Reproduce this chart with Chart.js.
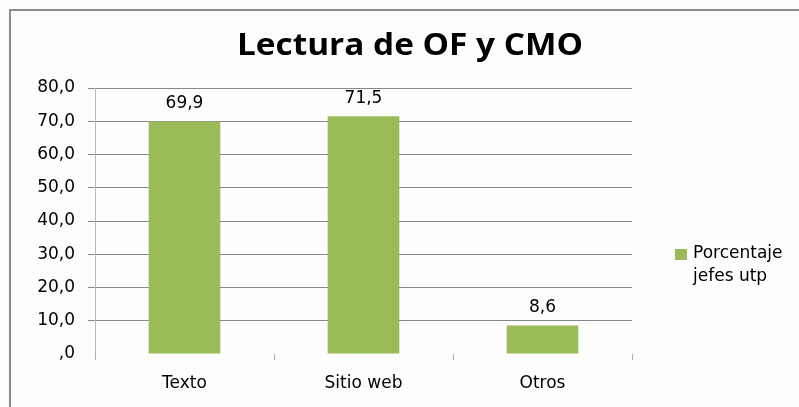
<!DOCTYPE html>
<html>
<head>
<meta charset="utf-8">
<script src="https://cdn.jsdelivr.net/npm/chart.js@4.4.0/dist/chart.umd.min.js"></script>
<style>
    html, body { margin: 0; padding: 0; background: #fdfdfd; overflow: hidden; }
    #marco { position: absolute; left: 9px; top: 9px; width: 820px; height: 420px;
             border-left: 2px solid #8a8a8a; border-top: 2px solid #8a8a8a; }
    #grafico { position: absolute; left: 0; top: 0; }
</style>
</head>
<body>
<div id="marco"></div>
<canvas id="grafico" width="820" height="407"></canvas>
<script>
// datos del grafico
const categorias = ['Texto', 'Sitio web', 'Otros'];
const porcentajes = [69.9, 71.5, 8.6];
const nombreSerie = ['Porcentaje', 'jefes utp'];
const tituloGrafico = 'Lectura de OF y CMO';
const ticksY = [0, 10, 20, 30, 40, 50, 60, 70, 80];

const verde = '#9bbb59';
const fuente = '"DejaVu Sans", sans-serif';
const fuenteTitulo = '"Open Sans", sans-serif';

// formato con coma decimal
function formatoComa(v) {
    if (v === 0) return ',0';
    return v.toFixed(1).replace('.', ',');
}

// titulo, etiquetas y leyenda dibujados a mano
const extras = {
    id: 'extras',
    afterDatasetsDraw(chart) {
        const ctx = chart.ctx;
        ctx.save();
        ctx.fillStyle = '#000';
        ctx.font = '17px ' + fuente;
        ctx.textAlign = 'center';
        ctx.textBaseline = 'middle';
        chart.getDatasetMeta(0).data.forEach((barra, i) => {
            ctx.fillText(formatoComa(porcentajes[i]), barra.x, barra.y - 18);
        });
        ctx.restore();
    },
    afterDraw(chart) {
        const ctx = chart.ctx;
        ctx.save();
        ctx.fillStyle = '#000';
        ctx.font = 'bold 30px ' + fuenteTitulo;
        ctx.textAlign = 'center';
        ctx.textBaseline = 'alphabetic';
        // el titulo original viene algo ensanchado
        const ancho = ctx.measureText(tituloGrafico).width;
        ctx.translate(410, 55);
        ctx.scale(346 / ancho, 1);
        ctx.fillText(tituloGrafico, 0, 0);
        ctx.restore();

        // leyenda
        ctx.save();
        ctx.fillStyle = verde;
        ctx.fillRect(675, 249, 12, 11);
        ctx.fillStyle = '#000';
        ctx.font = '17px ' + fuente;
        ctx.textAlign = 'left';
        ctx.textBaseline = 'middle';
        ctx.fillText(nombreSerie[0], 693, 254);
        ctx.fillText(nombreSerie[1], 693, 277);
        ctx.restore();
    }
};

new Chart(document.getElementById('grafico').getContext('2d'), {
    type: 'bar',
    data: {
        labels: categorias,
        datasets: [{
            label: nombreSerie.join(' '),
            data: porcentajes,
            backgroundColor: verde,
            categoryPercentage: 1,
            barPercentage: 0.4
        }]
    },
    options: {
        responsive: false,
        animation: false,
        layout: { padding: { top: 88, left: 0, right: 188, bottom: 0 } },
        plugins: {
            legend: { display: false },
            title: { display: false },
            tooltip: { enabled: false }
        },
        scales: {
            x: {
                afterFit: s => { s.height = 53; },
                border: { display: false },
                grid: {
                    drawOnChartArea: false,
                    drawTicks: true,
                    tickLength: 6,
                    color: '#b0b0b0'
                },
                ticks: {
                    color: '#000',
                    padding: 13,
                    font: { family: fuente, size: 17 }
                }
            },
            y: {
                min: 0,
                max: 80,
                afterFit: s => { s.width = 95; },
                afterBuildTicks: s => { s.ticks = ticksY.map(v => ({ value: v })); },
                border: { display: true, color: '#b8b8b8', width: 1 },
                grid: {
                    color: ctx => ctx.tick && ctx.tick.value === 0 ? 'rgba(0,0,0,0)' : '#868686',
                    tickLength: 7
                },
                ticks: {
                    color: '#000',
                    padding: 13,
                    font: { family: fuente, size: 17 },
                    callback: v => formatoComa(v)
                }
            }
        }
    },
    plugins: [extras]
});
</script>
</body>
</html>
